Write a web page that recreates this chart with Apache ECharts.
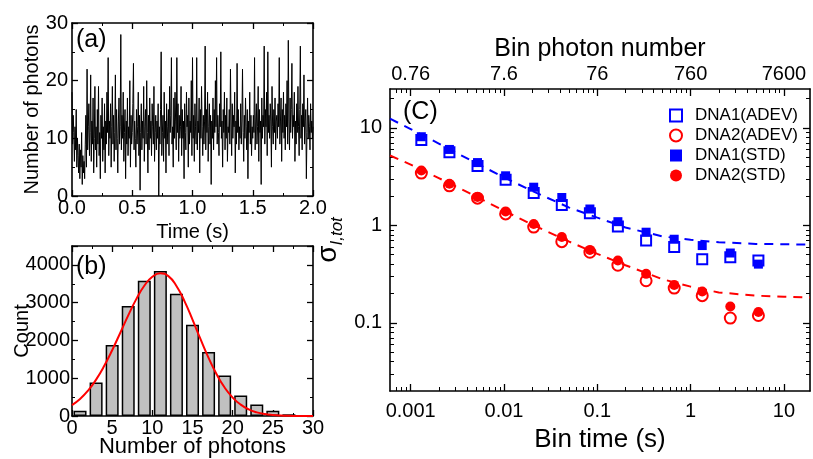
<!DOCTYPE html>
<html><head><meta charset="utf-8">
<script src="https://cdn.jsdelivr.net/npm/echarts@6/dist/echarts.min.js"></script>
<style>html,body{margin:0;padding:0;background:#fff}#c{width:813px;height:459px}</style>
</head><body><div id="c"></div>
<script>
// ---------- Panel (a): photon trace ----------
const traceTimeStep = 0.005; // s per sample
const traceCounts = [
18,9,14,11,6,12,8,15,5,10,7,4,9,3,8,5,11,2,7,4,
6,3,9,14,5,22,8,12,16,7,11,21,6,13,9,17,4,10,19,8,
12,5,15,9,19,7,11,3,14,10,17,6,12,8,16,4,13,9,18,11,
24,7,13,10,16,5,12,19,9,14,6,11,21,8,15,10,4,13,17,9,
12,28,8,14,10,18,6,11,15,3,13,9,17,7,12,10,20,5,14,9,
11,16,23,8,13,10,5,15,9,12,18,7,14,1,11,16,8,13,10,19,
6,12,15,9,20,11,4,14,8,17,10,13,7,16,12,9,19,6,11,14,
8,13,10,16,0,12,9,15,25,7,11,14,6,18,10,13,4,16,9,12,
15,7,19,11,14,24,9,12,5,17,10,18,13,8,24,11,16,6,14,10,
12,19,7,15,10,13,3,16,11,8,18,12,14,5,17,9,13,11,20,7,
24,10,14,6,16,12,9,24,8,13,11,17,4,15,10,19,12,7,14,9,
13,26,8,15,11,18,6,12,16,9,14,2,13,10,17,8,15,11,20,12,
24,9,14,11,7,16,12,25,10,13,5,15,11,18,8,14,10,17,6,12,
11,15,9,22,13,7,16,10,14,12,18,4,13,9,23,11,15,8,12,10,
16,9,13,22,11,6,14,10,17,12,8,15,3,13,11,18,9,14,7,12,
10,14,11,24,8,13,16,9,12,19,6,15,11,13,2,17,10,14,12,26,
9,15,12,18,7,25,11,14,10,16,13,5,19,12,9,15,11,17,8,13,
14,10,16,12,24,9,13,17,6,15,11,18,10,14,8,16,12,20,9,27,
13,8,17,11,15,23,10,14,12,18,6,13,9,16,11,19,12,7,15,26,
10,14,8,16,12,21,9,13,15,3,11,17,10,14,12,8,16,11,13,10,12
];

// ---------- Panel (b): histogram + fit ----------
const histBinCenters = [1,3,5,7,9,11,13,15,17,19,21,23,25,27,29];
const histCounts = [140,887,1878,2913,3583,3835,3235,2417,1696,1070,540,304,140,45,15];
const fitPhotons = [0,1,2,3,4,5,6,7,8,9,10,11,12,13,14,15,16,17,18,19,20,21,22,23,24,25,26,27,28,29,30];
const fitCounts = [290,451,673,964,1322,1741,2198,2664,3094,3448,3686,3779,3702,3443,3042,2552,2032,1538,1105,753,488,300,175,97,51,26,12,5,2,1,0];

// ---------- Panel (C): sigma vs bin time ----------
const binTimes = [0.0013,0.0026,0.0052,0.0104,0.0208,0.0416,0.0832,0.166,0.333,0.666,1.33,2.66,5.32];
const dna1Adev = [7.5,5.6,4.07,2.93,2.14,1.62,1.33,0.97,0.70,0.60,0.45,0.47,0.435];
const dna2Adev = [3.43,2.54,1.9,1.31,0.96,0.68,0.53,0.39,0.27,0.227,0.19,0.112,0.119];
const dna1Std  = [8.1,6.0,4.4,3.22,2.46,1.93,1.47,1.09,0.85,0.72,0.62,0.52,0.40];
const dna2Std  = [3.65,2.67,1.95,1.39,1.03,0.76,0.56,0.436,0.318,0.245,0.21,0.147,0.129];
const fitTimes = [0.0006,0.001,0.002,0.005,0.01,0.02,0.05,0.1,0.2,0.5,1,2,5,10,19];
const dna1Fit = [12.4,9.7,6.9,4.35,3.1,2.25,1.52,1.2,0.95,0.77,0.71,0.67,0.645,0.64,0.635];
const dna2Fit = [5.2,4.2,3.05,1.98,1.41,1.02,0.68,0.51,0.39,0.28,0.235,0.205,0.19,0.185,0.182];
const binTimeTicks = [0.001,0.01,0.1,1,10];
const binPhotonLabels = ['0.76','7.6','76','760','7600'];
const sigmaTicks = [0.1,1,10];

const F = 'Liberation Sans, Arial, sans-serif';
const BLUE = '#0000ff', RED = '#ff0000';

function minorLog(lo, hi) {
  const out = [];
  for (let e = -5; e <= 3; e++) {
    for (let m = 2; m <= 9; m++) {
      const v = +(m * Math.pow(10, e)).toPrecision(3);
      if (v > lo && v < hi) out.push(v);
    }
  }
  return out;
}

function ax(o) {
  const base = {
    nameMoveOverlap: false,
    axisLine: {show: true, onZero: false, lineStyle: {color: '#000', width: 1.6}},
    axisTick: {show: true, inside: true, length: 6, lineStyle: {color: '#000', width: 1.3}},
    axisLabel: {show: true, color: '#000', fontSize: 20, fontFamily: F},
    splitLine: {show: false},
    nameTextStyle: {color: '#000', fontSize: 20, fontFamily: F}
  };
  for (const k in o) {
    if (typeof o[k] === 'object' && !Array.isArray(o[k]) && base[k]) base[k] = Object.assign({}, base[k], o[k]);
    else base[k] = o[k];
  }
  return base;
}
const noLab = {show: false};
const minorT = {show: true, splitNumber: 2, length: 3, lineStyle: {color: '#000', width: 1}};

const X_MIN = 0.0006, X_MAX = 19, Y_MIN = 0.02, Y_MAX = 25;

const chart = echarts.init(document.getElementById('c'), null, {renderer: 'canvas'});
chart.setOption({
  animation: false,
  backgroundColor: '#fff',
  grid: [
    {left: 72, top: 23, width: 241, height: 173},
    {left: 72, top: 246, width: 241, height: 174},
    {left: 390, top: 89, width: 420, height: 302}
  ],
  xAxis: [
    ax({gridIndex: 0, type: 'value', min: 0, max: 2, interval: 0.5, position: 'bottom',
        minorTick: minorT,
        axisLabel: {margin: 2, formatter: v => v.toFixed(1)},
        name: 'Time (s)', nameLocation: 'middle', nameGap: 26}),
    ax({gridIndex: 0, type: 'value', min: 0, max: 2, interval: 0.5, position: 'top', minorTick: minorT, axisLabel: noLab}),
    ax({gridIndex: 1, type: 'value', min: 0, max: 30, interval: 5, position: 'bottom',
        minorTick: minorT, axisLabel: {margin: 2},
        name: 'Number of photons', nameLocation: 'middle', nameGap: 20, nameTextStyle: {fontSize: 22}}),
    ax({gridIndex: 1, type: 'value', min: 0, max: 30, interval: 5, position: 'top', minorTick: minorT, axisLabel: noLab}),
    ax({gridIndex: 2, type: 'log', min: X_MIN, max: X_MAX, position: 'bottom',
        axisTick: {customValues: binTimeTicks, length: 7},
        axisLabel: {customValues: binTimeTicks, margin: 10, formatter: v => String(+v.toPrecision(3))},
        name: 'Bin time (s)', nameLocation: 'middle', nameGap: 36, nameTextStyle: {fontSize: 26}}),
    ax({gridIndex: 2, type: 'log', min: X_MIN, max: X_MAX, position: 'top',
        axisTick: {customValues: binTimeTicks, length: 7},
        axisLabel: {customValues: binTimeTicks, margin: 5, formatter: v => {
          let best = 0; binTimeTicks.forEach((t, i) => { if (Math.abs(Math.log10(t) - Math.log10(v)) < Math.abs(Math.log10(binTimeTicks[best]) - Math.log10(v))) best = i; });
          return binPhotonLabels[best];
        }},
        name: 'Bin photon number', nameLocation: 'middle', nameGap: 27, nameTextStyle: {fontSize: 25}}),
    ax({gridIndex: 2, type: 'log', min: X_MIN, max: X_MAX, position: 'bottom', axisLine: {show: false},
        axisTick: {customValues: minorLog(X_MIN, X_MAX), length: 4, lineStyle: {width: 1}}, axisLabel: noLab}),
    ax({gridIndex: 2, type: 'log', min: X_MIN, max: X_MAX, position: 'top', axisLine: {show: false},
        axisTick: {customValues: minorLog(X_MIN, X_MAX), length: 4, lineStyle: {width: 1}}, axisLabel: noLab})
  ],
  yAxis: [
    ax({gridIndex: 0, type: 'value', min: 0, max: 30, interval: 10, position: 'left', minorTick: minorT,
        axisLabel: {margin: 4},
        name: 'Number of photons', nameLocation: 'middle', nameGap: 30}),
    ax({gridIndex: 0, type: 'value', min: 0, max: 30, interval: 10, position: 'right', minorTick: minorT, axisLabel: noLab}),
    ax({gridIndex: 1, type: 'value', min: 0, max: 4500, interval: 1000, position: 'left', minorTick: minorT,
        axisLabel: {margin: 2, showMaxLabel: false, formatter: v => String(v)},
        name: 'Count', nameLocation: 'middle', nameGap: 40}),
    ax({gridIndex: 1, type: 'value', min: 0, max: 4500, interval: 1000, position: 'right', minorTick: minorT, axisLabel: noLab}),
    ax({gridIndex: 2, type: 'log', min: Y_MIN, max: Y_MAX, position: 'left',
        axisTick: {customValues: sigmaTicks, length: 7},
        axisLabel: {customValues: sigmaTicks, margin: 8, formatter: v => String(+v.toPrecision(3))},
        name: '{s|σ}{b|I,tot}', nameLocation: 'middle', nameGap: 48,
        nameTextStyle: {rich: {
          s: {fontSize: 28, fontFamily: F, color: '#000', verticalAlign: 'bottom'},
          b: {fontSize: 17, fontFamily: F, fontStyle: 'italic', color: '#000', verticalAlign: 'bottom', padding: [0, 0, -4, 0]}
        }}}),
    ax({gridIndex: 2, type: 'log', min: Y_MIN, max: Y_MAX, position: 'right',
        axisTick: {customValues: sigmaTicks, length: 7}, axisLabel: noLab}),
    ax({gridIndex: 2, type: 'log', min: Y_MIN, max: Y_MAX, position: 'left', axisLine: {show: false},
        axisTick: {customValues: minorLog(Y_MIN, Y_MAX), length: 4, lineStyle: {width: 1}}, axisLabel: noLab}),
    ax({gridIndex: 2, type: 'log', min: Y_MIN, max: Y_MAX, position: 'right', axisLine: {show: false},
        axisTick: {customValues: minorLog(Y_MIN, Y_MAX), length: 4, lineStyle: {width: 1}}, axisLabel: noLab})
  ],
  legend: {
    data: ['DNA1(ADEV)', 'DNA2(ADEV)', 'DNA1(STD)', 'DNA2(STD)'],
    orient: 'vertical', left: 664, top: 102, itemWidth: 12, itemHeight: 12, itemGap: 3,
    selectedMode: false,
    textStyle: {fontSize: 17, color: '#000', fontFamily: F, padding: [0, 0, 0, 8]}
  },
  graphic: [
    {type: 'text', left: 76, top: 28, style: {text: '(a)', fontSize: 25, fontFamily: F, fill: '#000'}},
    {type: 'text', left: 76, top: 255, style: {text: '(b)', fontSize: 25, fontFamily: F, fill: '#000'}},
    {type: 'text', left: 403, top: 100, style: {text: '(C)', fontSize: 25, fontFamily: F, fill: '#000'}}
  ],
  series: [
    {type: 'line', xAxisIndex: 0, yAxisIndex: 0, showSymbol: false, silent: true,
     data: traceCounts.map((c, i) => [i * traceTimeStep, c]),
     lineStyle: {color: '#000', width: 1}},
    {type: 'bar', xAxisIndex: 2, yAxisIndex: 2, barWidth: 13,
     data: histBinCenters.map((x, i) => [x, histCounts[i]]),
     itemStyle: {color: '#c0c0c0', borderColor: '#000', borderWidth: 1.5}},
    {type: 'line', xAxisIndex: 2, yAxisIndex: 2, smooth: true, showSymbol: false,
     data: fitPhotons.map((x, i) => [x, fitCounts[i]]),
     lineStyle: {color: RED, width: 2}},
    {type: 'line', xAxisIndex: 4, yAxisIndex: 4, showSymbol: false, smooth: false,
     data: fitTimes.map((t, i) => [t, dna1Fit[i]]),
     lineStyle: {color: BLUE, width: 2, type: [9, 7]}},
    {type: 'line', xAxisIndex: 4, yAxisIndex: 4, showSymbol: false, smooth: false,
     data: fitTimes.map((t, i) => [t, dna2Fit[i]]),
     lineStyle: {color: RED, width: 2, type: [9, 7]}},
    {name: 'DNA1(ADEV)', type: 'scatter', xAxisIndex: 4, yAxisIndex: 4, symbol: 'emptyRect', symbolSize: 10,
     data: binTimes.map((t, i) => [t, dna1Adev[i]]),
     itemStyle: {color: BLUE, borderColor: BLUE, borderWidth: 1.5, opacity: 1}},
    {name: 'DNA2(ADEV)', type: 'scatter', xAxisIndex: 4, yAxisIndex: 4, symbol: 'emptyCircle', symbolSize: 11,
     data: binTimes.map((t, i) => [t, dna2Adev[i]]),
     itemStyle: {color: RED, borderColor: RED, borderWidth: 1.5, opacity: 1}},
    {name: 'DNA1(STD)', type: 'scatter', xAxisIndex: 4, yAxisIndex: 4, symbol: 'rect', symbolSize: 9,
     data: binTimes.map((t, i) => [t, dna1Std[i]]),
     itemStyle: {color: BLUE, opacity: 1}},
    {name: 'DNA2(STD)', type: 'scatter', xAxisIndex: 4, yAxisIndex: 4, symbol: 'circle', symbolSize: 10,
     data: binTimes.map((t, i) => [t, dna2Std[i]]),
     itemStyle: {color: RED, opacity: 1}}
  ]
});
</script></body></html>
